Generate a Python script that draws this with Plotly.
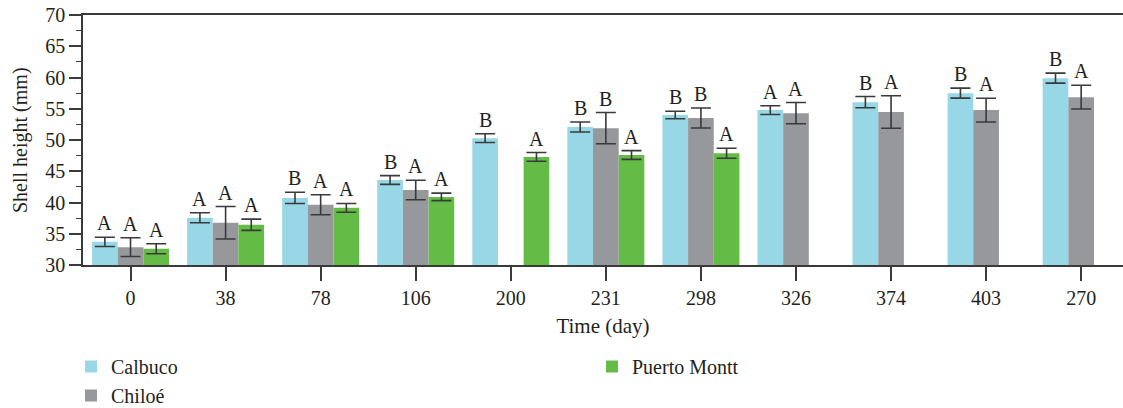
import plotly.graph_objects as go

days = ["0", "38", "78", "106", "200", "231", "298", "326", "374", "403", "270"]

cal_mean = [33.7, 37.55, 40.74, 43.6, 50.3, 52.07, 53.99, 54.79, 56.06, 57.5, 59.9]
cal_err = [0.74, 0.8, 0.9, 0.7, 0.7, 0.8, 0.6, 0.7, 0.9, 0.8, 0.8]
cal_let = ["A", "A", "B", "B", "B", "B", "B", "A", "B", "B", "B"]

chi_mean = [32.85, 36.76, 39.63, 42.0, None, 51.9, 53.51, 54.3, 54.47, 54.79, 56.86]
chi_err = [1.5, 2.6, 1.6, 1.55, None, 2.5, 1.6, 1.7, 2.6, 1.9, 1.9]
chi_let = ["A", "A", "A", "A", None, "B", "B", "A", "A", "A", "A"]

pm_mean = [32.6, 36.44, 39.15, 40.9, 47.29, 47.6, 47.87, None, None, None, None]
pm_err = [0.8, 0.9, 0.7, 0.6, 0.7, 0.7, 0.8, None, None, None, None]
pm_let = ["A", "A", "A", "A", "A", "A", "A", None, None, None, None]

series = [
    ("Calbuco", cal_mean, cal_err, cal_let, "#98D8E6", "legend"),
    ("Chiloé", chi_mean, chi_err, chi_let, "#97989C", "legend"),
    ("Puerto Montt", pm_mean, pm_err, pm_let, "#64BC46", "legend2"),
]

FONT = "Liberation Serif"
TXT = "#231f20"
AX = "#3a3a3a"
BARGAP = 0.19
n = len(series)
bw = (1 - BARGAP) / n
xs = list(range(len(days)))

fig = go.Figure()
annotations = []
for k, (name, mean, err, let, col, lg) in enumerate(series):
    fig.add_trace(go.Bar(
        x=xs, y=mean,
        name=name, marker=dict(color=col, line=dict(width=0)),
        error_y=dict(type="data", array=[e if e is not None else 0 for e in err],
                     visible=True, color=AX, thickness=1.6, width=10),
        legend=lg, legendgroup="g",
    ))
    off = (k - (n - 1) / 2) * bw
    for i, (m, e, l) in enumerate(zip(mean, err, let)):
        if m is None or l is None:
            continue
        annotations.append(dict(
            x=i + off, y=m + e, xref="x", yref="y", text=l, showarrow=False,
            yanchor="bottom", xanchor="center", yshift=1,
            font=dict(family=FONT, size=20, color=TXT)))

annotations.append(dict(
    x=(20 - 83) / 1040, y=0.5, xref="paper", yref="paper", text="Shell height (mm)",
    textangle=-90, showarrow=False, xanchor="center", yanchor="middle",
    font=dict(family=FONT, size=20, color=TXT)))

fig.update_layout(
    width=1123, height=408,
    margin=dict(l=83, r=0, t=15, b=143, pad=0, autoexpand=False),
    paper_bgcolor="white", plot_bgcolor="white",
    barmode="group", bargap=BARGAP, bargroupgap=0,
    font=dict(family=FONT, size=20, color=TXT),
    annotations=annotations,
    showlegend=True,
    legend=dict(xref="container", yref="container", x=71 / 1123, y=1 - 347 / 408,
                xanchor="left", yanchor="top", orientation="v",
                font=dict(family=FONT, size=20, color=TXT),
                tracegroupgap=0, bgcolor="rgba(0,0,0,0)"),
    legend2=dict(xref="container", yref="container", x=592 / 1123, y=1 - 347 / 408,
                 xanchor="left", yanchor="top", orientation="v",
                 font=dict(family=FONT, size=20, color=TXT),
                 bgcolor="rgba(0,0,0,0)"),
)

fig.update_xaxes(
    range=[-0.5, 10.44], tickmode="array", tickvals=xs, ticktext=days,
    showline=True, linecolor=AX, linewidth=1.6, mirror=True,
    ticks="outside", ticklen=14, tickwidth=1.6, tickcolor=AX,
    showgrid=False, zeroline=False, automargin=False,
    tickfont=dict(family=FONT, size=20, color=TXT),
    title=dict(text="Time (day)", font=dict(family=FONT, size=21, color=TXT), standoff=11),
)
fig.update_yaxes(
    range=[30, 70], tickmode="linear", tick0=30, dtick=5,
    showline=True, linecolor=AX, linewidth=1.6,
    ticks="outside", ticklen=12, tickwidth=1.6, tickcolor=AX,
    minor=dict(dtick=2.5, tick0=30, ticks="outside", ticklen=5, tickwidth=1.4, tickcolor=AX, showgrid=False),
    showgrid=False, zeroline=False, automargin=False,
    tickfont=dict(family=FONT, size=20, color=TXT),
)

fig.write_html("out.html")
